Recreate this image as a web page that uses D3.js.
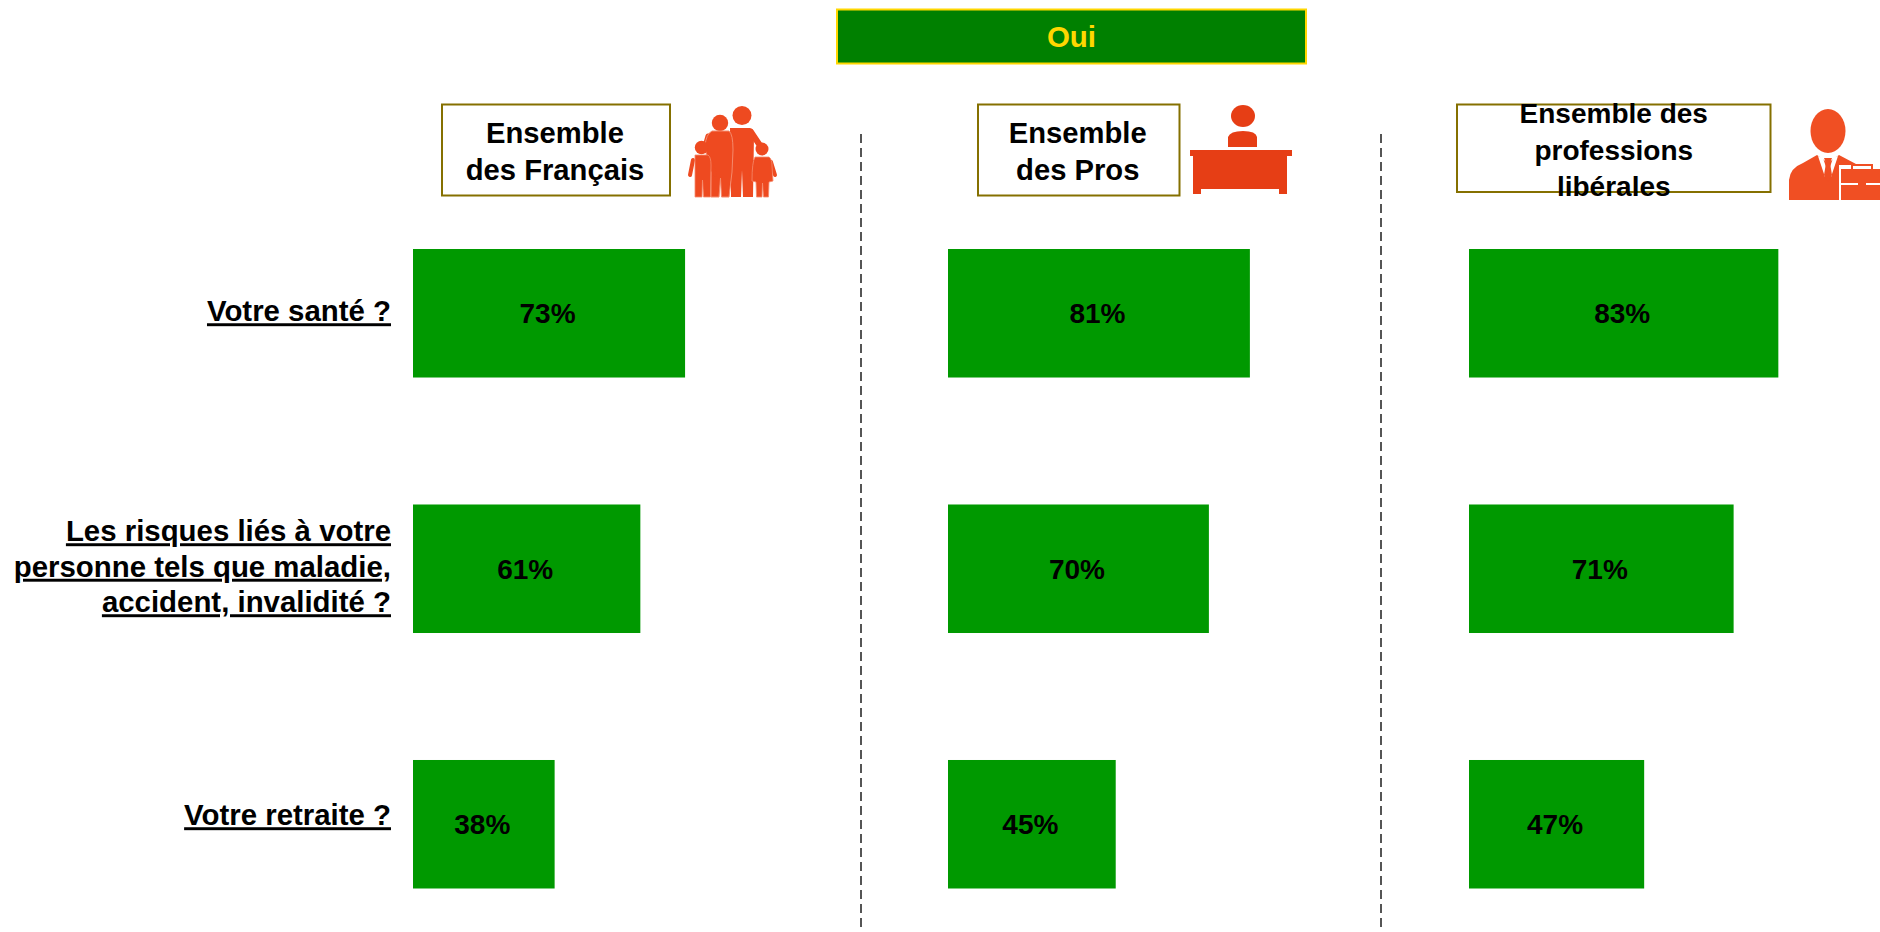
<!DOCTYPE html>
<html>
<head>
<meta charset="utf-8">
<script src="https://cdn.jsdelivr.net/npm/d3@7"></script>
<style>
    html, body { margin: 0; padding: 0; background: #fff; overflow: hidden; }
    text { font-family: "Liberation Sans", Arial, sans-serif; font-weight: bold; }
    .question { text-decoration: underline; text-decoration-thickness: 3px; text-underline-offset: 3px; }
</style>
</head>
<body>
<div id="chart"></div>
<script>
const title = "Oui";
const groups = ["Ensemble des Français", "Ensemble des Pros", "Ensemble des professions libérales"];
const questions = ["Votre santé ?", "Les risques liés à votre personne tels que maladie, accident, invalidité ?", "Votre retraite ?"];
const francais = [73, 61, 38];
const pros = [81, 70, 45];
const liberales = [83, 71, 47];

const groupLines = [["Ensemble", "des Français"], ["Ensemble", "des Pros"], ["Ensemble des", "professions", "libérales"]];
const questionLines = [["Votre santé ?"], ["Les risques liés à votre", "personne tels que maladie,", "accident, invalidité ?"], ["Votre retraite ?"]];

const ICON = "#ee4a20";
const BAR = "#009900";

const svg = d3.select("#chart").append("svg")
    .attr("width", 1880)
    .attr("height", 932);

// one scale for the rows, one for the bar length, columns are just offset
const y = d3.scaleBand()
    .domain(questions)
    .range([249, 888.5])
    .paddingInner(0.497)
    .paddingOuter(0);
const x = d3.scaleLinear().domain([0, 100]).range([0, 372.7]);

const columns = [
    { name: groups[0], values: francais, left: 413, box: [442, 104.5, 228, 91], textY: [143, 180], size: 29.2 },
    { name: groups[1], values: pros, left: 948, box: [978, 104.5, 201.5, 91], textY: [143, 180], size: 29.2 },
    { name: groups[2], values: liberales, left: 1469, box: [1457, 104.5, 313.5, 87.5], textY: [123, 160, 196], size: 28 }
];

// banner
svg.append("rect")
    .attr("x", 837).attr("y", 9.5).attr("width", 469).attr("height", 54)
    .attr("fill", "#008000").attr("stroke", "#ffd700").attr("stroke-width", 2);
svg.append("text")
    .attr("x", 1071.5).attr("y", 47)
    .attr("text-anchor", "middle")
    .attr("font-size", 29.5)
    .attr("fill", "#ffd700")
    .text(title);

// separators
svg.selectAll(".separator")
    .data([861, 1381])
    .join("line")
    .attr("class", "separator")
    .attr("x1", d => d).attr("x2", d => d)
    .attr("y1", 134).attr("y2", 928)
    .attr("stroke", "#555")
    .attr("stroke-width", 2)
    .attr("stroke-dasharray", "9 5");

// column headers
columns.forEach((col, i) => {
    svg.append("rect")
        .attr("x", col.box[0]).attr("y", col.box[1])
        .attr("width", col.box[2]).attr("height", col.box[3])
        .attr("fill", "#fff")
        .attr("stroke", "#857000")
        .attr("stroke-width", 2);
    svg.selectAll(`.head${i}`)
        .data(groupLines[i])
        .join("text")
        .attr("class", `head${i}`)
        .attr("x", col.box[0] + col.box[2] / 2 + (i === 2 ? 0 : -1))
        .attr("y", (d, j) => col.textY[j])
        .attr("text-anchor", "middle")
        .attr("font-size", col.size)
        .attr("fill", "#000")
        .text(d => d);
});

// row labels
svg.selectAll(".question")
    .data(questions)
    .join("text")
    .attr("class", "question")
    .attr("text-anchor", "end")
    .attr("font-size", 29.4)
    .attr("fill", "#000")
    .each(function (d, i) {
        const lines = questionLines[i];
        // the last row sits a bit above its bar in the reference
        const shift = i === 2 ? -9 : -2;
        const mid = y(d) + y.bandwidth() / 2 + shift;
        d3.select(this).selectAll("tspan")
            .data(lines)
            .join("tspan")
            .attr("x", 391)
            .attr("y", (l, j) => mid + 10 + (j - (lines.length - 1) / 2) * 35.5)
            .text(l => l);
    });

// bars and value labels
columns.forEach(col => {
    const g = svg.append("g").attr("transform", `translate(${col.left},0)`);
    g.selectAll("rect")
        .data(col.values)
        .join("rect")
        .attr("x", 0)
        .attr("y", (d, j) => y(questions[j]))
        .attr("width", d => x(d))
        .attr("height", y.bandwidth())
        .attr("fill", BAR);
    g.selectAll("text")
        .data(col.values)
        .join("text")
        .attr("x", d => x(d) / 2 - 1.5)
        .attr("y", (d, j) => y(questions[j]) + y.bandwidth() / 2 + 10)
        .attr("text-anchor", "middle")
        .attr("font-size", 28)
        .attr("fill", "#000")
        .text(d => `${d}%`);
});

// icons
function limb(g, x1, y1, x2, y2, w) {
    g.append("line")
        .attr("x1", x1).attr("y1", y1).attr("x2", x2).attr("y2", y2)
        .attr("stroke", ICON).attr("stroke-width", w).attr("stroke-linecap", "round");
}

function drawFamily() {
    const g = svg.append("g").attr("fill", ICON);
    // father
    g.append("circle").attr("cx", 742).attr("cy", 115.5).attr("r", 9.5);
    limb(g, 751, 132, 761, 147, 6);
    g.append("path")
        .attr("d", "M730 128 L750 128 Q754 129 754 135 L753 197 L743 197 L742 170 L741 197 L731 197 Z");
    // mother
    limb(g, 708, 136, 704, 150, 5);
    g.append("circle").attr("cx", 720).attr("cy", 123).attr("r", 8.2);
    g.append("path").attr("stroke", "#f58a6c").attr("stroke-width", 1)
        .attr("d", "M712 131 L729 131 Q733 134 733 150 L732 172 L729 197 L721.5 197 L720.5 178 L719 197 L711 197 L711 172 L708 165 L705 146 Q706 134 712 131 Z");
    // left child
    g.append("circle").attr("cx", 701.5).attr("cy", 147.5).attr("r", 6.7);
    limb(g, 693, 160, 690, 175, 4);
    limb(g, 710, 160, 715, 175, 4);
    g.append("path").attr("stroke", "#f58a6c").attr("stroke-width", 0.8)
        .attr("d", "M695 155 L708 155 Q711 157 711 165 L710.5 197 L703.5 197 L702.5 180 L702 197 L695 197 Z");
    // right child
    g.append("circle").attr("cx", 762).attr("cy", 149).attr("r", 6.5);
    limb(g, 753, 162, 751.5, 175, 4);
    limb(g, 771, 162, 775, 175, 4);
    g.append("path").attr("stroke", "#f58a6c").attr("stroke-width", 0.8)
        .attr("d", "M755 157 L769 157 Q772 159 772 166 L773 181 L769 182 L768.5 197 L763.5 197 L762.5 183 L762 197 L756.5 197 L756 182 L752 181 Q752 162 755 157 Z");
}

function drawDesk() {
    const g = svg.append("g").attr("fill", "#e63e15");
    g.append("ellipse").attr("cx", 1243).attr("cy", 116).attr("rx", 12).attr("ry", 11);
    g.append("path").attr("d", "M1228 147 L1228 137 Q1230 131 1243 131 Q1256 131 1257 137 L1257 147 Z");
    g.append("rect").attr("x", 1190).attr("y", 150).attr("width", 102).attr("height", 6);
    g.append("rect").attr("x", 1193).attr("y", 156).attr("width", 94).attr("height", 33);
    g.append("rect").attr("x", 1193).attr("y", 189).attr("width", 8).attr("height", 5);
    g.append("rect").attr("x", 1279).attr("y", 189).attr("width", 8).attr("height", 5);
}

function drawLiberal() {
    const g = svg.append("g").attr("fill", "#f04f23");
    g.append("ellipse").attr("cx", 1828).attr("cy", 131).attr("rx", 17.5).attr("ry", 22);
    g.append("path").attr("d", "M1789 200 L1789 180 Q1790 168 1803 163 L1817 155 L1828 163 L1839 155 L1856 164 L1866 170 L1866 200 Z");
    // collar and tie
    g.append("path").attr("fill", "#fff").attr("d", "M1818 156 L1823 158 L1828 173 L1825 177 Z M1838 156 L1833 158 L1828 173 L1831 177 Z");
    g.append("path").attr("d", "M1824 158 L1832 158 L1830 163 L1832 175 L1828 182 L1824 175 L1826 163 Z");
    // briefcase
    g.append("rect").attr("x", 1839).attr("y", 165).attr("width", 41).attr("height", 37).attr("fill", "#fff");
    g.append("rect").attr("x", 1852).attr("y", 165).attr("width", 20).attr("height", 8)
        .attr("fill", "none").attr("stroke", "#f04f23").attr("stroke-width", 2);
    g.append("rect").attr("x", 1841).attr("y", 169).attr("width", 39).attr("height", 14);
    g.append("rect").attr("x", 1841).attr("y", 185).attr("width", 39).attr("height", 15);
    g.append("rect").attr("x", 1858).attr("y", 181).attr("width", 8).attr("height", 6);
}

drawFamily();
drawDesk();
drawLiberal();
</script>
</body>
</html>
